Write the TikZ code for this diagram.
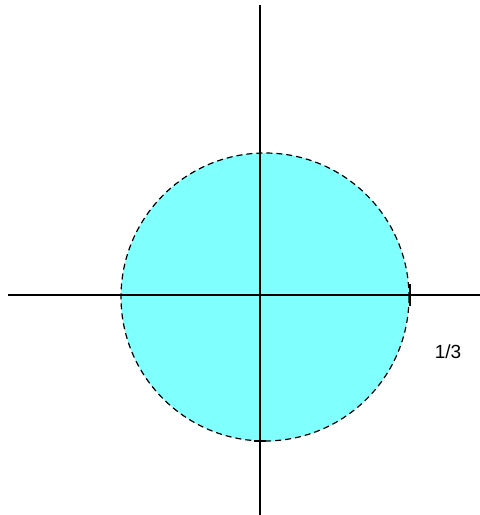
\documentclass[tikz,border=0pt]{standalone}
\usepackage{fontspec}
\setsansfont{Liberation Sans}
\usepackage{xcolor}
\definecolor{discCyan}{HTML}{80FFFF}
\usepackage{tikz}
\usetikzlibrary{positioning, calc}

\begin{document}
\begin{tikzpicture}[
    x=1pt, y=-1pt,
    axisline/.style={draw=black, line width=1.2pt},
    disc/.style={fill=discCyan, draw=black, line width=1.2pt, dash pattern=on 6pt off 4pt},
    ticklabel/.style={font=\sffamily\fontsize{19}{21}\selectfont, text=black, inner sep=1pt}
]
\useasboundingbox (0,0) rectangle (480,515);

\coordinate (origin) at (260,295);
\coordinate (centre) at (265,297);

% disc of radius 1/3
\path[disc] (centre) circle[radius=144];

% axes
\draw[axisline] (8,295) -- (480,295);
\draw[axisline] (260,5) -- (260,515);

% ticks
\coordinate (eastTop) at (410,284);
\coordinate (eastBot) at (410,306);
\coordinate (southL) at (254,441);
\coordinate (southR) at (266,441);
\draw[axisline, line width=1.6pt] (eastTop) -- (eastBot);
\draw[axisline] (southL) -- (southR);

\node[ticklabel] (third) at (448,352) {1/3};

\end{tikzpicture}
\end{document}
